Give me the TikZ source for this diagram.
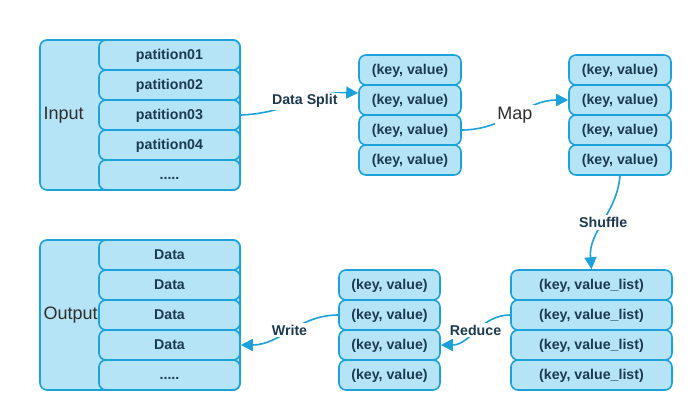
\documentclass[tikz,border=0pt]{standalone}
\usepackage{fontspec}
\setmainfont{Liberation Sans}
\usepackage{tikz}
\usetikzlibrary{positioning,arrows,arrows.meta,calc}
\usepackage{xcolor}
\definecolor{lineblue}{HTML}{1DA1DB}
\definecolor{cellblue}{HTML}{B4E4F6}
\definecolor{ink}{HTML}{1B3A52}
\definecolor{greyink}{HTML}{2E2E2E}

\begin{document}
\begin{tikzpicture}[x=1pt, y=-1pt,
  every node/.style={font=\bfseries\fontsize{14.2}{16}\selectfont, text=ink},
  frame/.style={draw=lineblue, fill=cellblue, line width=1.6pt, rounded corners=7pt,
    minimum width=200pt, minimum height=150pt, inner sep=0pt},
  cell/.style={draw=lineblue, fill=cellblue, line width=1.6pt, rounded corners=7pt,
    minimum height=30pt, inner sep=0pt, text height=0.9em, text depth=0.1em},
  side/.style={font=\fontsize{18}{20}\selectfont, text=greyink, anchor=west},
  conn/.style={draw=lineblue, line width=1.6pt, -{Triangle[length=12pt,width=12pt]}},
  lbl/.style={fill=white, inner sep=2pt}]
  \useasboundingbox (0,0) rectangle (691,410);

  % input file
  \node[frame] (inbox) at (140,115) {};
  \node[cell, minimum width=141pt] (in1) at (169.5,55)  {patition01};
  \node[cell, minimum width=141pt] (in2) at (169.5,85)  {patition02};
  \node[cell, minimum width=141pt] (in3) at (169.5,115) {patition03};
  \node[cell, minimum width=141pt] (in4) at (169.5,145) {patition04};
  \node[cell, minimum width=141pt] (in5) at (169.5,175) {.....};
  \node[side] at (40,115) {Input};

  % output file
  \node[frame] (outbox) at (140,315) {};
  \node[cell, minimum width=141pt] (out1) at (169.5,255) {Data};
  \node[cell, minimum width=141pt] (out2) at (169.5,285) {Data};
  \node[cell, minimum width=141pt] (out3) at (169.5,315) {Data};
  \node[cell, minimum width=141pt] (out4) at (169.5,345) {Data};
  \node[cell, minimum width=141pt] (out5) at (169.5,375) {.....};
  \node[side] at (40,315) {Output};

  % after split
  \node[cell, minimum width=102pt] (kv1) at (410,70)  {(key, value)};
  \node[cell, minimum width=102pt] (kv2) at (410,100) {(key, value)};
  \node[cell, minimum width=102pt] (kv3) at (410,130) {(key, value)};
  \node[cell, minimum width=102pt] (kv4) at (410,160) {(key, value)};

  % after map
  \node[cell, minimum width=102pt] (mp1) at (620,70)  {(key, value)};
  \node[cell, minimum width=102pt] (mp2) at (620,100) {(key, value)};
  \node[cell, minimum width=102pt] (mp3) at (620,130) {(key, value)};
  \node[cell, minimum width=102pt] (mp4) at (620,160) {(key, value)};

  % after shuffle
  \node[cell, minimum width=161pt] (sh1) at (591.5,285) {(key, value\_list)};
  \node[cell, minimum width=161pt] (sh2) at (591.5,315) {(key, value\_list)};
  \node[cell, minimum width=161pt] (sh3) at (591.5,345) {(key, value\_list)};
  \node[cell, minimum width=161pt] (sh4) at (591.5,375) {(key, value\_list)};

  % after reduce
  \node[cell, minimum width=101pt] (rd1) at (389.5,285) {(key, value)};
  \node[cell, minimum width=101pt] (rd2) at (389.5,315) {(key, value)};
  \node[cell, minimum width=101pt] (rd3) at (389.5,345) {(key, value)};
  \node[cell, minimum width=101pt] (rd4) at (389.5,375) {(key, value)};

  \draw[conn] (in3.east) to[out=2,in=178] node[lbl,pos=0.55]{Data Split} ([yshift=7pt]kv2.west);
  \draw[conn] (kv3.east) to[out=0,in=180] node[lbl,font=\fontsize{18}{20}\selectfont,text=greyink]{Map} (mp2.west);
  \draw[conn] (mp4.south) to[out=-95,in=95] node[lbl]{Shuffle} (sh1.north);
  \draw[conn] (sh2.west) to[out=180,in=0] node[lbl]{Reduce} (rd3.east);
  \draw[conn] (rd2.west) to[out=180,in=0] node[lbl,pos=0.5]{Write} (out4.east);
\end{tikzpicture}
\end{document}
